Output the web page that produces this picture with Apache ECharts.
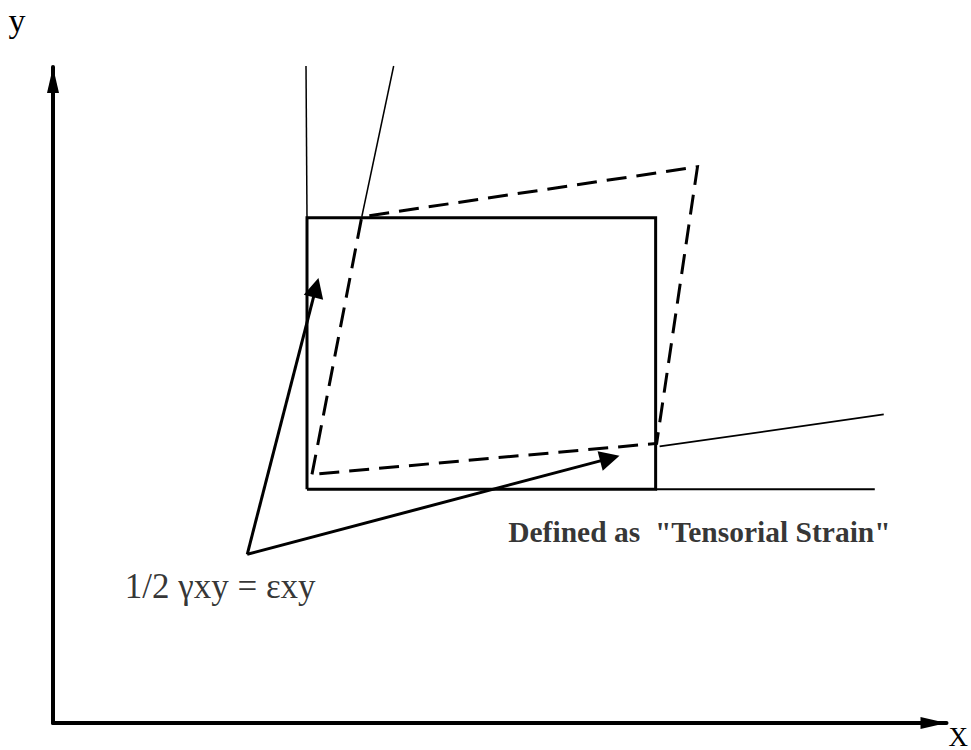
<!DOCTYPE html>
<html>
<head>
<meta charset="utf-8">
<script src="https://cdn.jsdelivr.net/npm/echarts@6/dist/echarts.min.js"></script>
<style>
html,body{margin:0;padding:0;background:#fff;}
#chart{width:971px;height:750px;}
</style>
</head>
<body>
<div id="chart"></div>
<script>
// Diagram coordinates (origin at the axes corner, y up)
const xRange = [0, 897];
const yRange = [0, 657];
const axisNames = ['X', 'y'];

const undeformedSquare = [[255, 234], [605, 234], [605, 506], [255, 506], [255, 234]];
const deformedSquare = [[260, 249], [310, 507], [647, 557], [606, 280], [260, 249]];
const verticalReference = [[255, 506], [254, 658]];
const horizontalReference = [[605, 234], [825, 234]];
const rotatedVertical = [[310, 507], [342, 658]];
const rotatedHorizontal = [[609, 277], [834, 309]];
const arrowOrigin = [195, 169];
const arrowTips = [[264, 436], [559, 265]];

const noteText = ['Defined as  "Tensorial Strain"', '1/2 \u03B3xy = \u03B5xy'];
const notePositions = [[457, 191], [72, 137]];

const SERIF = '"Liberation Serif", "Times New Roman", "DejaVu Serif", serif';

const chart = echarts.init(document.getElementById('chart'), null, {renderer: 'svg'});

function polyline(name, data, width, dashed) {
  return {
    name: name,
    type: 'line',
    data: data,
    symbol: 'none',
    clip: false,
    silent: true,
    animation: false,
    lineStyle: {color: '#000', width: width, type: dashed ? [20, 10] : 'solid', cap: 'butt', join: 'miter'}
  };
}

function noteSeries(i, size, weight) {
  return {
    type: 'scatter',
    data: [notePositions[i]],
    symbolSize: 0,
    silent: true,
    animation: false,
    label: {
      show: true,
      position: 'right',
      distance: 0,
      formatter: noteText[i],
      color: '#000',
      fontFamily: SERIF,
      fontSize: size,
      fontWeight: weight
    }
  };
}

const option = {
  backgroundColor: '#fff',
  animation: false,
  grid: {left: 53, right: 21, top: 67, bottom: 26, containLabel: false},
  xAxis: {
    type: 'value', min: xRange[0], max: xRange[1],
    name: axisNames[0], nameLocation: 'end', nameGap: 2,
    nameTextStyle: {color: '#000', fontFamily: SERIF, fontSize: 27, verticalAlign: 'top', padding: [0, 0, 0, 0]},
    axisLine: {show: true, lineStyle: {color: '#000', width: 4},
      symbol: ['none', 'triangle'], symbolSize: [12, 26], symbolOffset: [0, -13]},
    axisTick: {show: false}, axisLabel: {show: false}, splitLine: {show: false}
  },
  yAxis: {
    type: 'value', min: yRange[0], max: yRange[1],
    name: axisNames[1], nameLocation: 'end', nameGap: 30,
    nameTextStyle: {color: '#000', fontFamily: SERIF, fontSize: 34, align: 'center', padding: [0, 72, 0, 0]},
    axisLine: {show: true, lineStyle: {color: '#000', width: 4},
      symbol: ['none', 'triangle'], symbolSize: [12, 26], symbolOffset: [0, -13]},
    axisTick: {show: false}, axisLabel: {show: false}, splitLine: {show: false}
  },
  series: [
    polyline('verticalReference', verticalReference, 1.5, false),
    polyline('horizontalReference', horizontalReference, 2, false),
    polyline('rotatedVertical', rotatedVertical, 1.5, false),
    polyline('rotatedHorizontal', rotatedHorizontal, 1.8, false),
    polyline('undeformed', undeformedSquare, 3, false),
    polyline('deformed', deformedSquare, 3, true),
    {
      type: 'lines',
      coordinateSystem: 'cartesian2d',
      silent: true,
      animation: false,
      symbol: ['none', 'triangle'],
      symbolSize: [9, 20],
      symbolOffset: [0, 10],
      lineStyle: {color: '#000', width: 3, opacity: 1},
      data: arrowTips.map(function (t) { return {coords: [arrowOrigin, t]}; })
    },
    noteSeries(0, 29.5, 'bold'),
    noteSeries(1, 35, 'normal')
  ]
};
chart.setOption(option);
</script>
</body>
</html>
